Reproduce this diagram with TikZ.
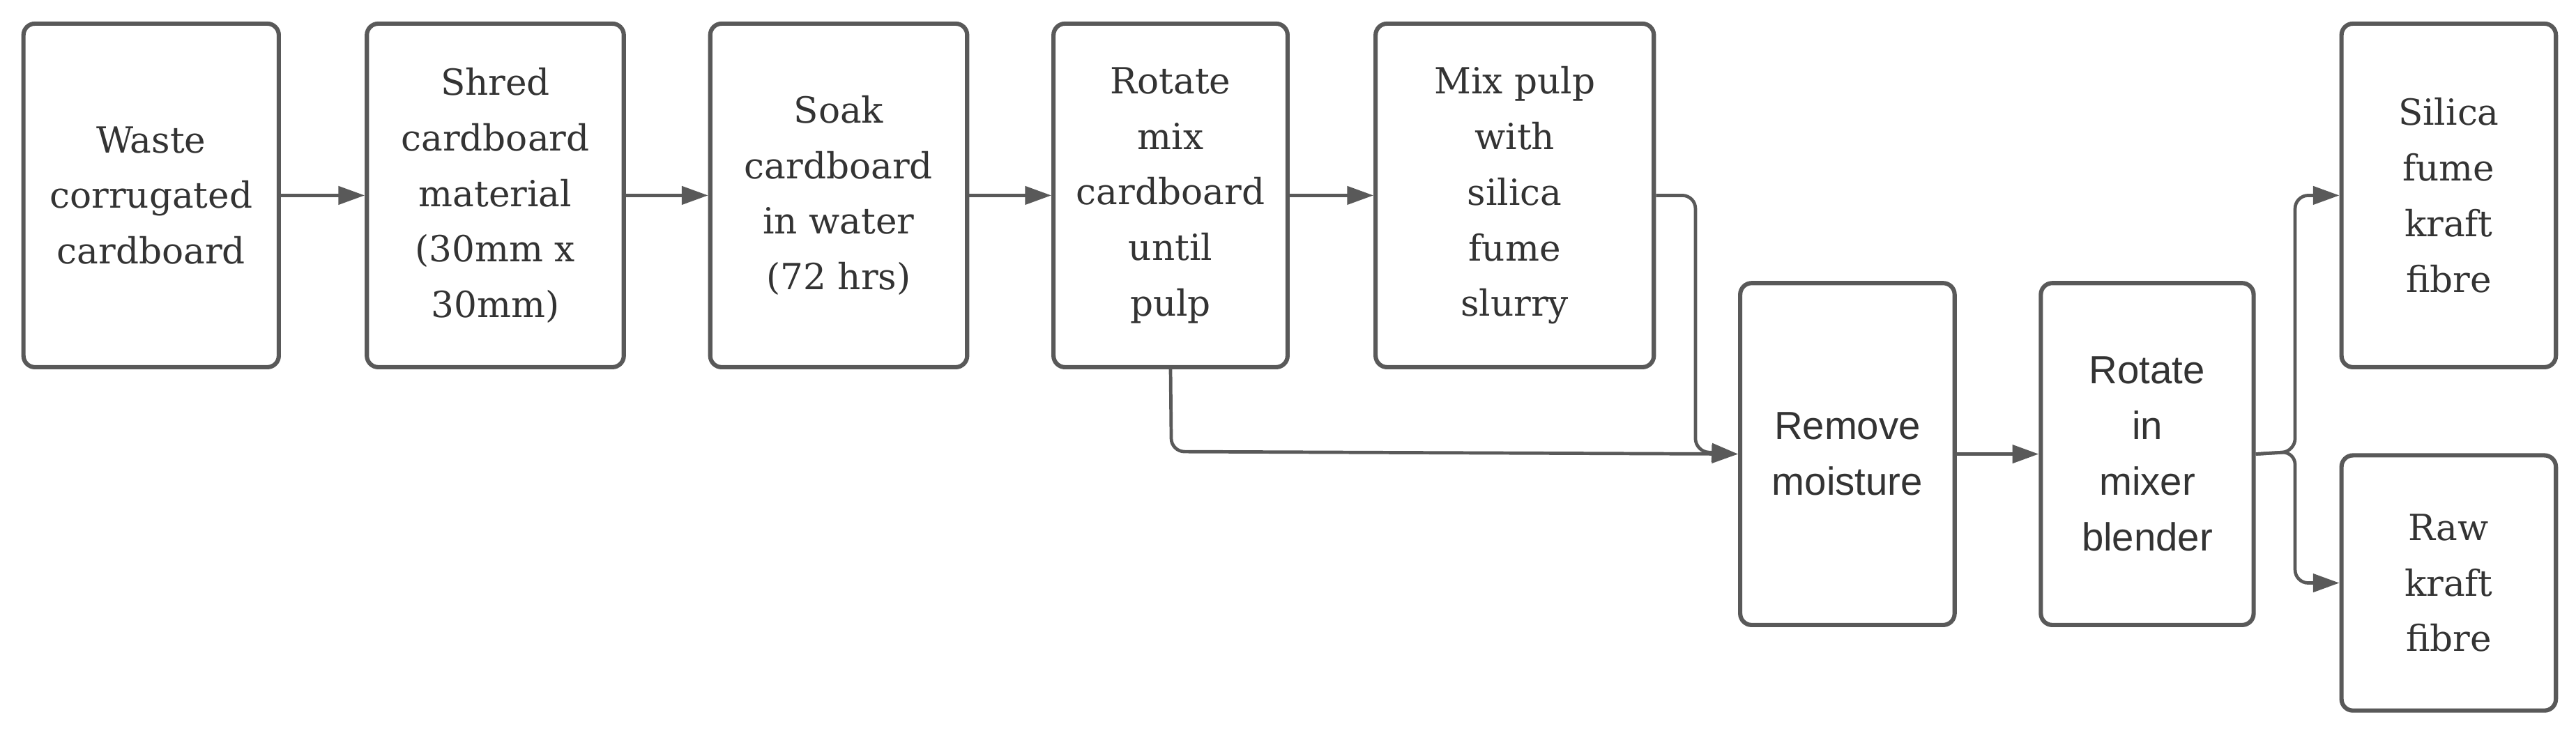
\documentclass[tikz,border=0pt]{standalone}
\usepackage{fontspec}
\setmainfont{DejaVu Serif}
\newfontfamily\sansf{Liberation Sans}
\usetikzlibrary{arrows.meta}
\definecolor{ln}{HTML}{595959}
\definecolor{tx}{HTML}{333333}
\begin{document}
\begin{tikzpicture}[x=1bp,y=-1bp,
 box/.style={draw=ln,line width=2.6bp,rounded corners=7bp,align=center,text=tx,inner sep=0pt,
   font=\fontsize{22}{34}\selectfont},
 sbox/.style={box,font=\sansf\fontsize{24}{34}\selectfont},
 arr/.style={draw=ln,line width=2bp,rounded corners=8bp,-{Triangle[length=16bp,width=11bp]}}]
\useasboundingbox (0,0) rectangle (1568,445);
\newcommand\bx[6]{\node[#6,minimum width={#4-#2},minimum height={#5-#3}] (#1) at ({(#2+#4)/2},{(#3+#5)/2}) {};}
\bx{a}{14}{14}{170}{224}{box}
\bx{b}{223}{14}{380}{224}{box}
\bx{c}{432}{14}{589}{224}{box}
\bx{d}{641}{14}{784}{224}{box}
\bx{e}{837}{14}{1007}{224}{box}
\bx{f}{1059}{172}{1190}{381}{sbox}
\bx{g}{1242}{172}{1372}{381}{sbox}
\bx{h}{1425}{14}{1556}{224}{box}
\bx{i}{1425}{277}{1556}{433}{box}
\tikzset{t/.style={align=center,text=tx,font=\fontsize{22}{34}\selectfont}, ts/.style={align=center,text=tx,font=\sansf\fontsize{24}{34}\selectfont}}
\node[t] at (a) {Waste\\corrugated\\cardboard};
\node[t] at (b) {Shred\\cardboard\\material\\(30mm x\\30mm)};
\node[t] at (c) {Soak\\cardboard\\in water\\(72 hrs)};
\node[t] at (d) {Rotate\\mix\\cardboard\\until\\pulp};
\node[t] at (e) {Mix pulp\\with\\silica\\fume\\slurry};
\node[ts] at (f) {Remove\\moisture};
\node[ts] at (g) {Rotate\\in\\mixer\\blender};
\node[t] at (h) {Silica\\fume\\kraft\\fibre};
\node[t] at (i) {Raw\\kraft\\fibre};
\draw[arr] (a) -- (b);
\draw[arr] (b) -- (c);
\draw[arr] (c) -- (d);
\draw[arr] (d) -- (e);
\coordinate (j1) at (1032,119);
\coordinate (j2) at (1032,275);
\draw[arr] (e.east) -- (j1) -- (j2) -- (f.west);
\coordinate (k1) at (713,275);
\draw[arr] (d.south) -- (k1) -- (f.west);
\draw[arr] (f) -- (g);
\coordinate (m0) at (1397,275);
\coordinate (m1) at (1397,119);
\coordinate (m2) at (1397,355);
\draw[arr] (g.east) -- (m0) -- (m1) -- (h.west);
\draw[arr] (g.east) -- (m0) -- (m2) -- (i.west);
\end{tikzpicture}
\end{document}
